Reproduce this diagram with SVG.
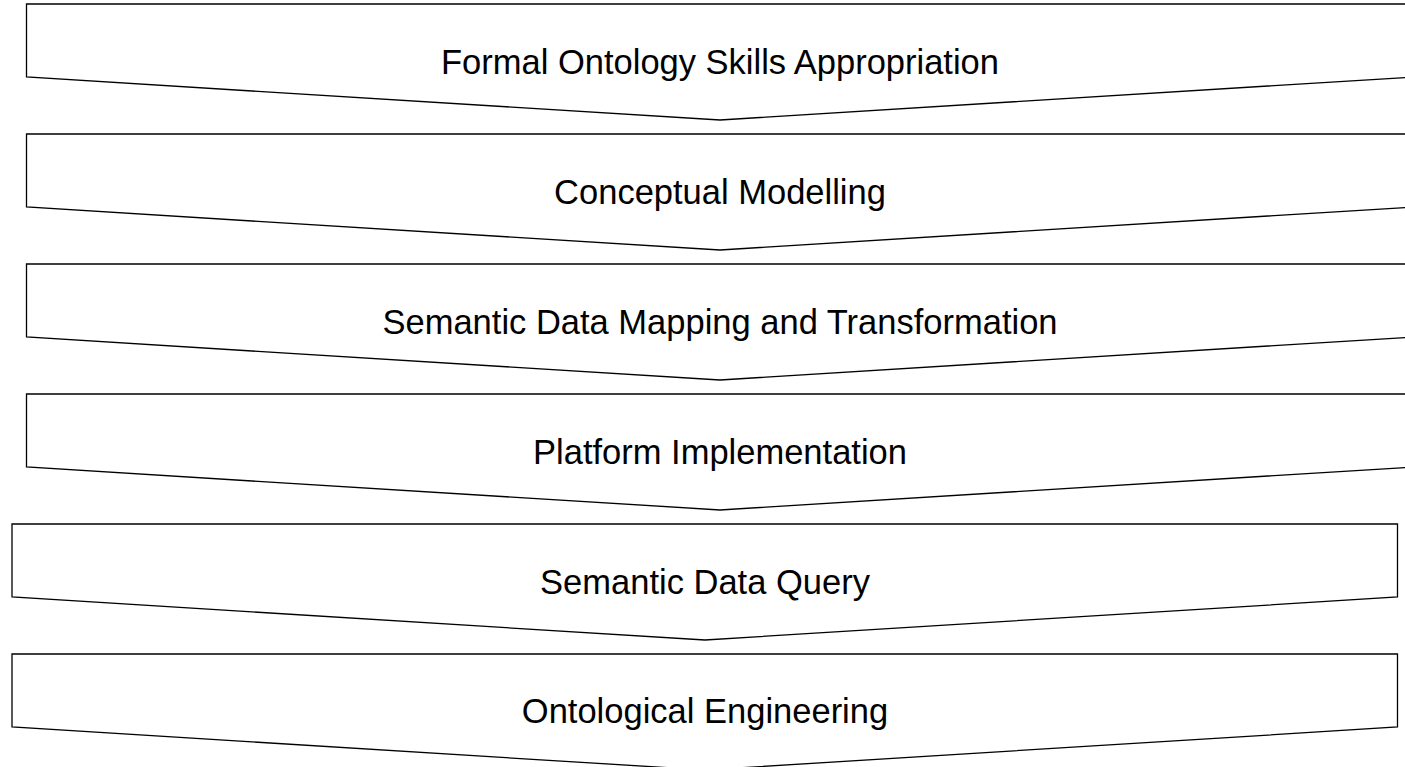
<svg xmlns="http://www.w3.org/2000/svg" width="1405" height="767" viewBox="0 0 1405 767">
<style>
.s{fill:#fff;stroke:#000;stroke-width:1.3}
.t{font-family:"Liberation Sans",Arial,sans-serif;font-size:34.5px;fill:#000;text-anchor:middle}
</style>
<rect width="1405" height="767" fill="#fff"/>
<g id="n1"><path class="s" d="M26.5,4 H1413.5 V77 L720,120 L26.5,77 Z"/><text class="t" x="720" y="74">Formal Ontology Skills Appropriation</text></g>
<g id="n2"><path class="s" d="M26.5,134 H1413.5 V207 L720,250 L26.5,207 Z"/><text class="t" x="720" y="204">Conceptual Modelling</text></g>
<g id="n3"><path class="s" d="M26.5,264 H1413.5 V337 L720,380 L26.5,337 Z"/><text class="t" x="720" y="334">Semantic Data Mapping and Transformation</text></g>
<g id="n4"><path class="s" d="M26.5,394 H1413.5 V467 L720,510 L26.5,467 Z"/><text class="t" x="720" y="464">Platform Implementation</text></g>
<g id="n5"><path class="s" d="M12,524 H1397.5 V597 L705,640 L12,597 Z"/><text class="t" x="705" y="594">Semantic Data Query</text></g>
<g id="n6"><path class="s" d="M12,654 H1397.5 V727 L705,770 L12,727 Z"/><text class="t" x="705" y="723">Ontological Engineering</text></g>
<g id="connectors"></g>
</svg>
